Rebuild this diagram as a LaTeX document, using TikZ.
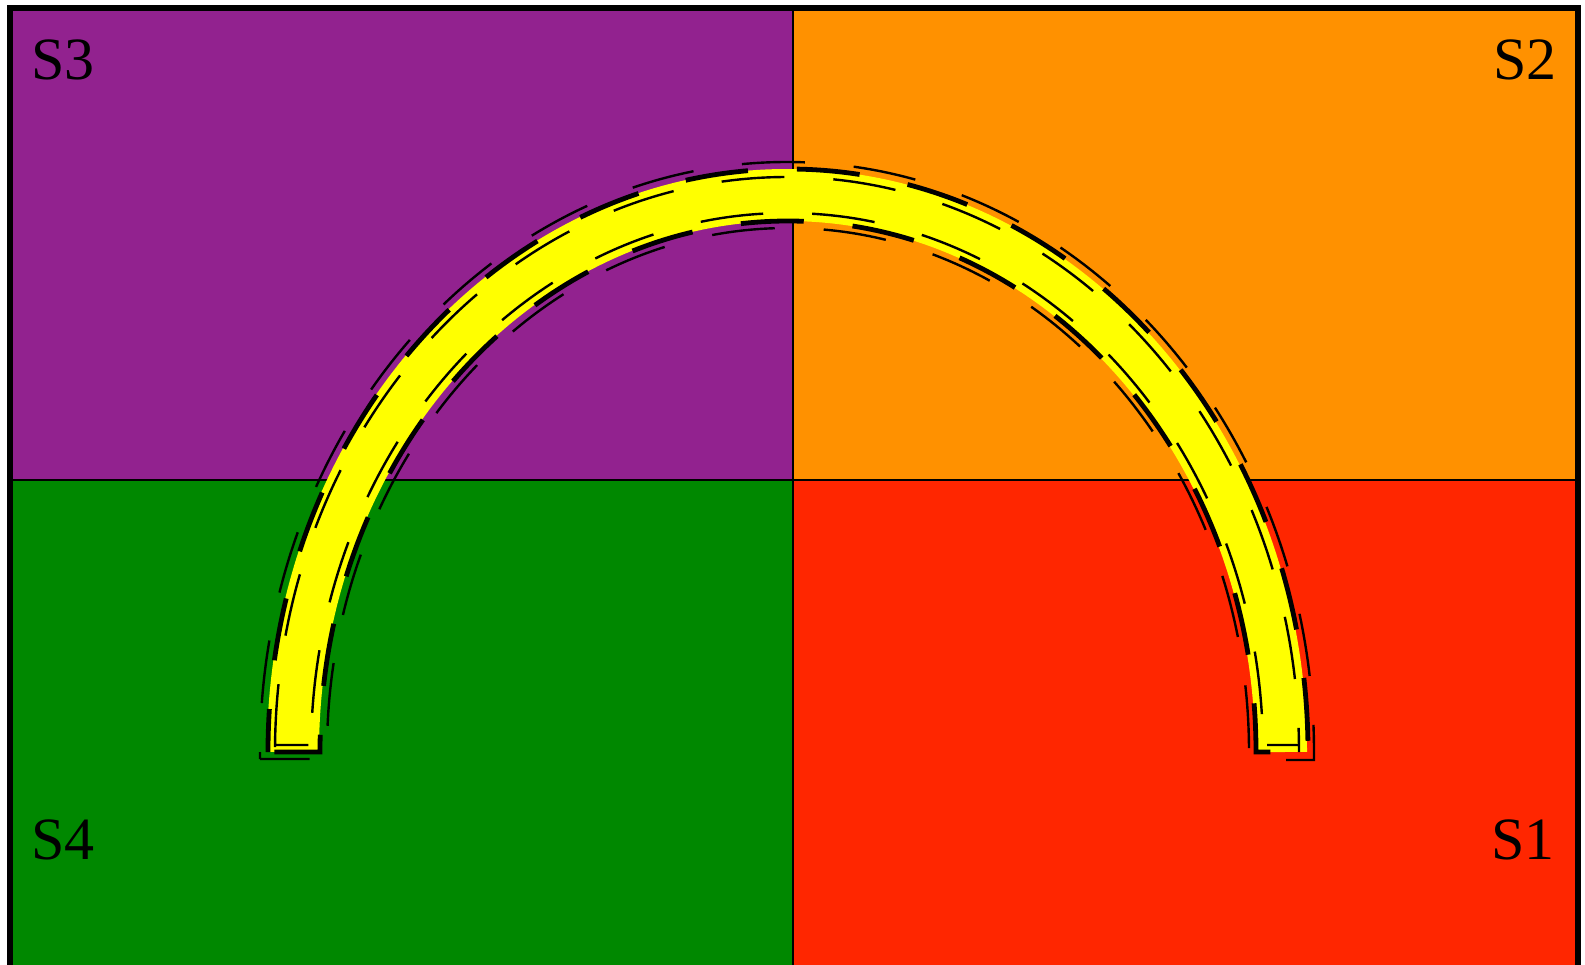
\documentclass[tikz,border=0pt]{standalone}
\usepackage{fontspec}
\setmainfont{Liberation Serif}
\definecolor{qpurple}{RGB}{146,34,143}
\definecolor{qorange}{RGB}{255,145,0}
\definecolor{qgreen}{RGB}{0,136,0}
\definecolor{qred}{RGB}{255,38,0}
\definecolor{qyellow}{RGB}{255,255,0}
\begin{document}
\begin{tikzpicture}[x=0.5pt,y=-0.5pt,
  lab/.style={font=\fontsize{30}{36}\selectfont, inner sep=0pt, text=black},
  divider/.style={draw=black, line width=1pt},
  frame/.style={draw=black, line width=3pt, line join=miter},
  band/.style={draw=qyellow, line width=26pt},
  edgethick/.style={draw=black, line width=2.4pt, dash pattern=on 31.5pt off 24.5pt},
  edgethin/.style={draw=black, line width=1.2pt, dash pattern=on 31.5pt off 24.5pt}]
\useasboundingbox (0,0) rectangle (1585,964);
\clip (0,0) rectangle (1585,964);
\fill[white] (0,0) rectangle (1585,964);
% quadrants
\fill[qpurple] (10,8) rectangle (793,480);
\fill[qorange] (793,8) rectangle (1578,480);
\fill[qgreen] (10,480) rectangle (793,1010);
\fill[qred] (793,480) rectangle (1578,1010);
\draw[divider] (793,8) -- (793,1010);
\draw[divider] (10,480) -- (1578,480);
\draw[frame] (10,1010) -- (10,8) -- (1578,8) -- (1578,1010);
% labels
\node[lab, anchor=base west] (s3) at (31,79) {S3};
\node[lab, anchor=base east] (s2) at (1557,79) {S2};
\node[lab, anchor=base west] (s4) at (31,859) {S4};
\node[lab, anchor=base east] (s1) at (1555,859) {S1};
% yellow band
\coordinate (c) at (787,752);
\draw[band] (293,752) arc[start angle=180,end angle=360,x radius=494,y radius=557];
% sketchy dashed outlines
\draw[edgethick, dash phase=10pt] (268,752) arc[start angle=180,end angle=360,x radius=520,y radius=583]
  -- (1256,752) arc[start angle=0,end angle=-180,x radius=468,y radius=531] -- cycle;
\draw[edgethin, dash phase=28pt] (260,759) -- (260,752) arc[start angle=180,end angle=360,x radius=527,y radius=590]
  -- (1314,760) -- (1249,760) -- (1249,752) arc[start angle=0,end angle=-180,x radius=461,y radius=524] -- (325,759) -- cycle;
\draw[edgethin, dash phase=-6pt] (275,745) -- (275,752) arc[start angle=180,end angle=360,x radius=512,y radius=575]
  -- (1299,745) -- (1263,745) -- (1263,752) arc[start angle=0,end angle=-180,x radius=476,y radius=539] -- (311,745) -- cycle;
\end{tikzpicture}
\end{document}
